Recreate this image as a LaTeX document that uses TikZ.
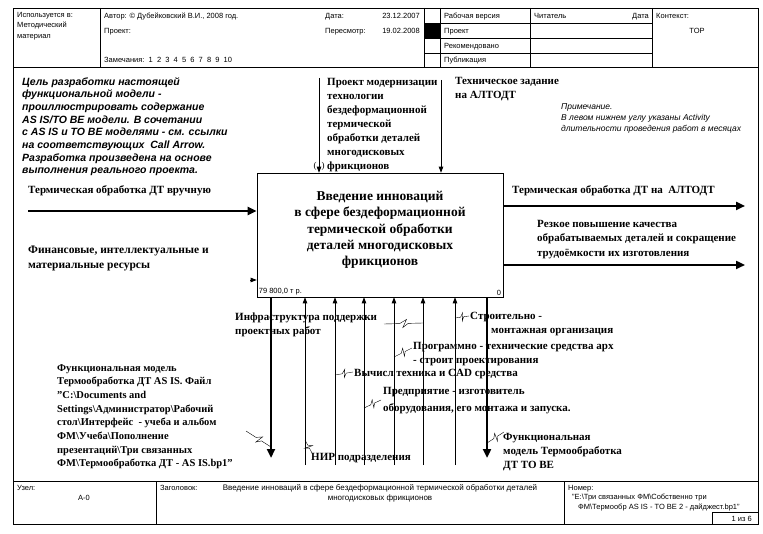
\documentclass[tikz,border=0pt]{standalone}
\usepackage{fontspec}
\setmainfont{Liberation Serif}
\setsansfont{Liberation Sans}
\usetikzlibrary{arrows.meta,calc,positioning}

\begin{document}
\begin{tikzpicture}[x=1pt,y=-1pt,
  form/.style={font=\sffamily\fontsize{7.5}{9}\selectfont, inner sep=0pt, anchor=base west},
  lbl/.style={font=\bfseries\fontsize{11}{14}\selectfont, align=left, inner sep=0pt, anchor=north west},
  bar/.style={line width=2.4pt, -{Triangle[length=9pt,width=8pt]}},
  ln/.style={line width=0.7pt, -{Triangle[length=6pt,width=4.5pt]}},
  zz/.style={line width=0.4pt, to path={-- ($(\tikztostart)!.4!(\tikztotarget)$)
     -- ($(\tikztostart)!.58!(\tikztotarget)!4pt!90:(\tikztotarget)$)
     -- ($(\tikztostart)!.48!(\tikztotarget)!-4pt!90:(\tikztotarget)$)
     -- ($(\tikztostart)!.62!(\tikztotarget)$) -- (\tikztotarget)}}]
\useasboundingbox (0,0) rectangle (763,534);

% header
\draw (13,8) rectangle (758,67);
\foreach \x in {100,424,440,530,652} \draw (\x,8) -- (\x,67);
\foreach \y in {23,38,53} \draw (424,\y) -- (652,\y);
\fill (424,23) rectangle (440,38);
\node[form] (used1) at (17,18) {Используется в:};
\node[form] (used2) at (17,28) {Методический};
\node[form] (used3) at (17,39) {материал};
\node[form] (author) at (104,19) {Автор: © Дубейковский В.И., 2008 год.};
\node[form] (project) at (104,34) {Проект:};
\node[form] (notes) at (104,63) {Замечания:\ \ 1\ \ 2\ \ 3\ \ 4\ \ 5\ \ 6\ \ 7\ \ 8\ \ 9\ \ 10};
\node[form] (date) at (325,19) {Дата:};
\node[form, anchor=base east] (dateval) at (420,19) {23.12.2007};
\node[form] (rev) at (325,34) {Пересмотр:};
\node[form, anchor=base east] (revval) at (420,34) {19.02.2008};
\node[form] (st1) at (444,19) {Рабочая версия};
\node[form] (st2) at (444,34) {Проект};
\node[form] (st3) at (444,49) {Рекомендовано};
\node[form] (st4) at (444,63) {Публикация};
\node[form] (reader) at (534,19) {Читатель};
\node[form, anchor=base east] (rdate) at (649,19) {Дата};
\node[form] (context) at (656,19) {Контекст:};
\node[form, anchor=base] (top) at (697,34) {TOP};

% frame and footer
\draw (13,67) -- (13,481);
\draw (758,67) -- (758,481);
\draw (13,481) rectangle (758,524);
\draw (156,481) -- (156,524);
\draw (564,481) -- (564,524);
\draw (712,524) |- (758,512);
\node[form] (node) at (17,490) {Узел:};
\node[form, anchor=base] (nodeval) at (84,500) {А-0};
\node[form] (title) at (160,490) {Заголовок:};
\node[form, anchor=base, font=\sffamily\fontsize{8}{9}\selectfont] (title1) at (380,490) {Введение инноваций в сфере бездеформационной термической обработки деталей};
\node[form, anchor=base, font=\sffamily\fontsize{8}{9}\selectfont] (title2) at (380,500) {многодисковых фрикционов};
\node[form] (number) at (568,490) {Номер:};
\node[form] (number1) at (572,499.5) {"E:\textbackslash Три связанных ФМ\textbackslash Собственно три};
\node[form] (number2) at (578,509) {ФМ\textbackslash Термообр AS IS - TO BE 2 - дайджест.bp1"};
\node[form, anchor=base east] (page) at (752,521) {1 из 6};

% activity
\node[draw, line width=0.6pt, minimum width=246, minimum height=124, inner sep=0pt] (box) at (380,235) {};
\node[font=\bfseries\fontsize{13.5}{16.3}\selectfont, align=center] (boxtext) at ([yshift=5pt]box.center)
  {Введение инноваций\\в сфере бездеформационной\\термической обработки\\деталей многодисковых\\фрикционов};
\node[form, anchor=south west, inner sep=2pt] (cost) at (box.south west) {79 800,0 т р.};
\node[form, anchor=south east, inner sep=2pt] (num) at (box.south east) {0};

% notes
\node[lbl, font=\sffamily\bfseries\itshape\fontsize{10.5}{12.7}\selectfont] (goal) at (22,77)
  {Цель разработки настоящей\\функциональной модели -\\проиллюстрировать содержание\\AS IS/TO BE модели. В сочетании\\с AS IS и TO BE моделями - см. ссылки\\на соответствующих\ \ Call Arrow.\\Разработка произведена на основе\\выполнения реального проекта.};
\node[lbl, font=\sffamily\itshape\fontsize{8.5}{11}\selectfont] (remark) at (561,103)
  {Примечание.\\В левом нижнем углу указаны Activity\\длительности проведения работ в месяцах};

% inputs
\node[lbl] (manual) at (28,185) {Термическая обработка ДТ вручную};
\coordinate (manual0) at (28,211);
\draw[bar] (manual0) -- (manual0 -| box.west);
\node[lbl, font=\bfseries\fontsize{11.5}{15}\selectfont] (fin) at (28,246) {Финансовые, интеллектуальные и\\материальные ресурсы};
\coordinate (fin0) at (250,280);
\draw[ln] (fin0) -- (fin0 -| box.west);

% controls
\node[lbl] (proj) at (327,78)
  {Проект модернизации\\технологии\\бездеформационной\\термической\\обработки деталей\\многодисковых\\фрикционов};
\coordinate (proj0) at (319,78);
\draw[ln] (proj0) -- (proj0 |- box.north);
\node[font=\fontsize{9}{9}\selectfont, inner sep=0pt] (pl) at (315,166) {(};
\node[font=\fontsize{9}{9}\selectfont, inner sep=0pt] (pr) at (323,166) {)};
\node[lbl] (tz) at (455,77) {Техническое задание\\на АЛТОДТ};
\coordinate (tz0) at (441,80);
\draw[ln] (tz0) -- (tz0 |- box.north);

% outputs
\node[lbl] (alt) at (512,185) {Термическая обработка ДТ на\ \ АЛТОДТ};
\coordinate (alt1) at (745,206);
\draw[bar] (alt1 -| box.east) -- (alt1);
\node[lbl, font=\bfseries\fontsize{11}{14.5}\selectfont] (qual) at (537,220)
  {Резкое повышение качества\\обрабатываемых деталей и сокращение\\трудоёмкости их изготовления};
\coordinate (qual1) at (745,265);
\draw[bar] (qual1 -| box.east) -- (qual1);

% mechanisms and calls
\foreach \x [count=\i] in {305,335,364,394,423,455} {
  \coordinate (m\i) at (\x,465);
  \draw[ln] (m\i) -- (m\i |- box.south);
}
\coordinate (asis1) at (271,458);
\draw[bar] (asis1 |- box.south) -- (asis1);
\coordinate (tobe1) at (487,458);
\draw[bar] (tobe1 |- box.south) -- (tobe1);

\node[lbl, font=\bfseries\fontsize{10.5}{13.7}\selectfont] (asis) at (57,364)
  {Функциональная модель\\Термообработка ДТ AS IS. Файл\\"C:\textbackslash Documents and\\Settings\textbackslash Администратор\textbackslash Рабочий\\стол\textbackslash Интерфейс\ \ - учеба и альбом\\ФМ\textbackslash Учеба\textbackslash Пополнение\\презентаций\textbackslash Три связанных\\ФМ\textbackslash Термообработка ДТ - AS IS.bp1"};
\node[lbl] (infra) at (235,313) {Инфраструктура поддержки\\проектных работ};
\node[lbl] (stroi) at (470,312) {Строительно -\\\hspace*{21pt}монтажная организация};
\node[lbl] (prog) at (413,342) {Программно - технические средства арх\\- строит проектирования};
\node[lbl] (cad) at (354,369) {Вычисл техника и CAD средства};
\node[lbl, font=\bfseries\fontsize{11}{17}\selectfont] (pred) at (383,387) {Предприятие - изготовитель\\оборудования, его монтажа и запуска.};
\node[lbl] (nir) at (311,453) {НИР подразделения};
\node[lbl] (tobe) at (503,433) {Функциональная\\модель Термообработка\\ДТ TO BE};

\coordinate (z1a) at (246,431); \coordinate (z1b) at (271,447);
\draw[zz] (z1a) to (z1b);
\coordinate (z2a) at (384,324); \coordinate (z2b) at (423,323);
\draw[zz] (z2a) to (z2b);
\coordinate (z3a) at (455,318); \coordinate (z3b) at (469,316);
\draw[zz] (z3a) to (z3b);
\coordinate (z4a) at (394,357); \coordinate (z4b) at (412,348);
\draw[zz] (z4a) to (z4b);
\coordinate (z5a) at (335,375); \coordinate (z5b) at (353,372);
\draw[zz] (z5a) to (z5b);
\coordinate (z6a) at (364,408); \coordinate (z6b) at (381,400);
\draw[zz] (z6a) to (z6b);
\coordinate (z7a) at (305,440); \coordinate (z7b) at (312,453);
\draw[zz] (z7a) to (z7b);
\coordinate (z8a) at (487,443); \coordinate (z8b) at (504,432);
\draw[zz] (z8a) to (z8b);
\end{tikzpicture}
\end{document}
